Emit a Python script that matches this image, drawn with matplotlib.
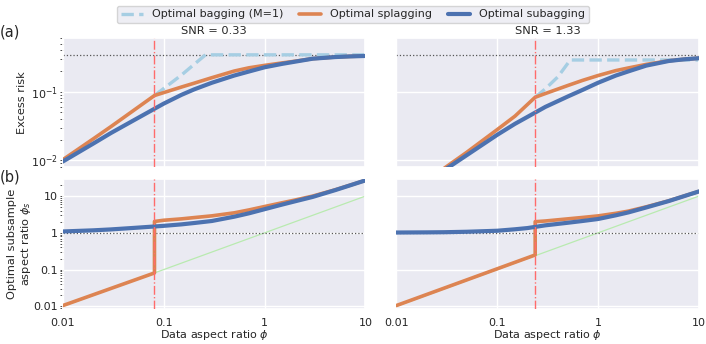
import numpy as np
import matplotlib
matplotlib.use("Agg")
import matplotlib.pyplot as plt
import seaborn as sns
from matplotlib.ticker import FixedLocator, FixedFormatter, LogLocator, NullFormatter

# shared grid of data aspect ratios phi
phi = [0.01, 0.02, 0.03, 0.05, 0.1, 0.15, 0.2, 0.3, 0.5, 0.7, 1, 1.5, 2, 3, 5, 7, 10]

snr_titles = ["SNR = 0.33", "SNR = 1.33"]
phi_star = [0.081, 0.238]     # switching point (red vertical line)
null_risk = 0.345             # dotted line in panel (a)

# (a) excess risk, SNR = 0.33
risk_sub_0 = [0.0096, 0.0175, 0.025, 0.038, 0.067, 0.09, 0.108, 0.135, 0.172, 0.197,
              0.227, 0.255, 0.274, 0.303, 0.32, 0.327, 0.332]
risk_spl_phi_0 = [0.01, 0.02, 0.03, 0.05, 0.081, 0.1, 0.15, 0.2, 0.3, 0.5, 0.7, 1, 1.5, 2, 3, 5, 7, 10]
risk_spl_0 = [0.0102, 0.0205, 0.031, 0.053, 0.088, 0.097, 0.117, 0.133, 0.16, 0.2, 0.223,
              0.242, 0.263, 0.278, 0.303, 0.32, 0.327, 0.332]
risk_bag_phi_0 = [0.081, 0.15, 0.2, 0.26, 10]
risk_bag_0 = [0.088, 0.175, 0.25, 0.345, 0.345]

# (a) excess risk, SNR = 1.33
risk_sub_1 = [0.0024, 0.0048, 0.0072, 0.0119, 0.0235, 0.034, 0.043, 0.06, 0.085, 0.106,
              0.135, 0.172, 0.198, 0.24, 0.28, 0.296, 0.308]
risk_spl_phi_1 = [0.01, 0.02, 0.03, 0.05, 0.1, 0.15, 0.238, 0.3, 0.5, 0.7, 1, 1.5, 2, 3, 5, 7, 10]
risk_spl_1 = [0.0025, 0.0051, 0.0077, 0.0131, 0.028, 0.044, 0.083, 0.094, 0.123, 0.146,
              0.172, 0.203, 0.222, 0.25, 0.282, 0.296, 0.308]
risk_bag_phi_1 = [0.238, 0.3, 0.4, 0.53, 10]
risk_bag_1 = [0.083, 0.11, 0.165, 0.29, 0.29]

# (b) optimal subsample aspect ratio, SNR = 0.33
ratio_sub_0 = [1.09, 1.17, 1.24, 1.36, 1.55, 1.7, 1.85, 2.1, 2.75, 3.4, 4.4, 5.9, 7.2,
               9.5, 14.5, 19.5, 26.8]
ratio_spl_phi_0 = [0.01, 0.081, 0.081, 0.1, 0.15, 0.2, 0.3, 0.5, 0.7, 1, 1.5, 2, 3, 5, 7, 10]
ratio_spl_0 = [0.0105, 0.081, 2.04, 2.2, 2.4, 2.6, 2.9, 3.5, 4.2, 5.2, 6.6, 7.8, 10.0,
               14.8, 19.7, 26.8]

# (b) optimal subsample aspect ratio, SNR = 1.33
ratio_sub_1 = [1.02, 1.03, 1.04, 1.07, 1.14, 1.25, 1.35, 1.6, 1.88, 2.1, 2.38, 3.0, 3.6,
               4.9, 7.3, 9.8, 13.4]
ratio_spl_phi_1 = [0.01, 0.238, 0.238, 0.3, 0.5, 0.7, 1, 1.5, 2, 3, 5, 7, 10]
ratio_spl_1 = [0.0105, 0.25, 2.01, 2.1, 2.4, 2.62, 2.89, 3.4, 3.9, 5.1, 7.4, 9.9, 13.4]

diag = [0.01, 10]

risk_sub = [risk_sub_0, risk_sub_1]
risk_spl = [(risk_spl_phi_0, risk_spl_0), (risk_spl_phi_1, risk_spl_1)]
risk_bag = [(risk_bag_phi_0, risk_bag_0), (risk_bag_phi_1, risk_bag_1)]
ratio_sub = [ratio_sub_0, ratio_sub_1]
ratio_spl = [(ratio_spl_phi_0, ratio_spl_0), (ratio_spl_phi_1, ratio_spl_1)]

c_bag = '#a6cee3'
c_spl = '#dd8452'
c_sub = '#4c72b0'


def main():
    sns.set_theme(style='darkgrid')
    plt.rcParams['font.family'] = ['DejaVu Sans']
    plt.rcParams['font.size'] = 8

    fig, axes = plt.subplots(2, 2, figsize=(7.06, 3.44), dpi=100, sharex=True)
    fig.subplots_adjust(left=0.089, right=0.990, top=0.890, bottom=0.103,
                        wspace=0.102, hspace=0.091)

    for j in range(2):
        ax = axes[0, j]
        ax.plot(risk_bag[j][0], risk_bag[j][1], '--', color=c_bag, lw=2.4,
                label='Optimal bagging (M=1)', zorder=2)
        ax.plot(risk_spl[j][0], risk_spl[j][1], color=c_spl, lw=2.6,
                label='Optimal splagging', zorder=3)
        ax.plot(phi, risk_sub[j], color=c_sub, lw=3.0,
                label='Optimal subagging', zorder=4)
        ax.axhline(null_risk, color='#555555', ls=':', lw=0.9, zorder=1)
        ax.axvline(phi_star[j], color='#ff6b6b', ls='-.', lw=1.0, zorder=5)
        ax.set_xscale('log')
        ax.set_yscale('log')
        ax.set_xlim(0.01, 10)
        ax.set_ylim(0.0079, 0.61)
        ax.set_title(snr_titles[j], fontsize=8.2, pad=3)

        ax = axes[1, j]
        ax.plot(diag, diag, color='#b9eab0', lw=0.9, zorder=1)
        ax.plot(ratio_spl[j][0], ratio_spl[j][1], color=c_spl, lw=2.6, zorder=3)
        ax.plot(phi, ratio_sub[j], color=c_sub, lw=3.0, zorder=4)
        ax.axhline(1, color='#555555', ls=':', lw=0.9, zorder=1)
        ax.axvline(phi_star[j], color='#ff6b6b', ls='-.', lw=1.0, zorder=5)
        ax.set_xscale('log')
        ax.set_yscale('log')
        ax.set_xlim(0.01, 10)
        ax.set_ylim(0.0087, 29)
        ax.yaxis.set_major_locator(FixedLocator([0.01, 0.1, 1, 10]))
        ax.yaxis.set_major_formatter(FixedFormatter(['0.01', '0.1', '1', '10']))
        ax.set_xlabel(r'Data aspect ratio $\phi$', fontsize=8, labelpad=0)

    for ax in axes.flat:
        ax.xaxis.set_major_locator(FixedLocator([0.01, 0.1, 1, 10]))
        ax.xaxis.set_major_formatter(FixedFormatter(['0.01', '0.1', '1', '10']))
        ax.xaxis.set_minor_formatter(NullFormatter())
        ax.yaxis.set_minor_locator(LogLocator(base=10, subs=np.arange(2, 10)))
        ax.yaxis.set_minor_formatter(NullFormatter())
        ax.tick_params(axis='both', which='major', labelsize=8, pad=1.5)
        ax.tick_params(axis='x', which='major', pad=1)

    # minor y ticks on the left panels only
    for ax in axes[:, 0]:
        ax.tick_params(axis='y', which='minor', left=True, length=2, width=0.6, color='#333333')
        ax.tick_params(axis='y', which='major', left=True, length=2, width=0.6, color='#333333')
    for ax in axes[:, 1]:
        ax.tick_params(axis='y', which='both', labelleft=False)
    for ax in axes[0, :]:
        ax.tick_params(axis='x', which='both', labelbottom=False)

    axes[0, 0].set_ylabel('Excess risk', fontsize=8.2, labelpad=3)
    axes[1, 0].set_ylabel('Optimal subsample\naspect ratio $\\phi_s$', fontsize=8.2, labelpad=0)

    fig.text(0.0, 0.885, '(a)', fontsize=10.5, va='bottom')
    fig.text(0.0, 0.465, '(b)', fontsize=10.5, va='bottom')

    handles, labels = axes[0, 0].get_legend_handles_labels()
    fig.legend(handles, labels, loc='upper center', ncol=3, bbox_to_anchor=(0.5, 1.0),
               fontsize=8, frameon=True, handlelength=2.0, columnspacing=1.4,
               borderpad=0.35)

    fig.savefig('out.png', dpi=100)


if __name__ == "__main__":
    main()
